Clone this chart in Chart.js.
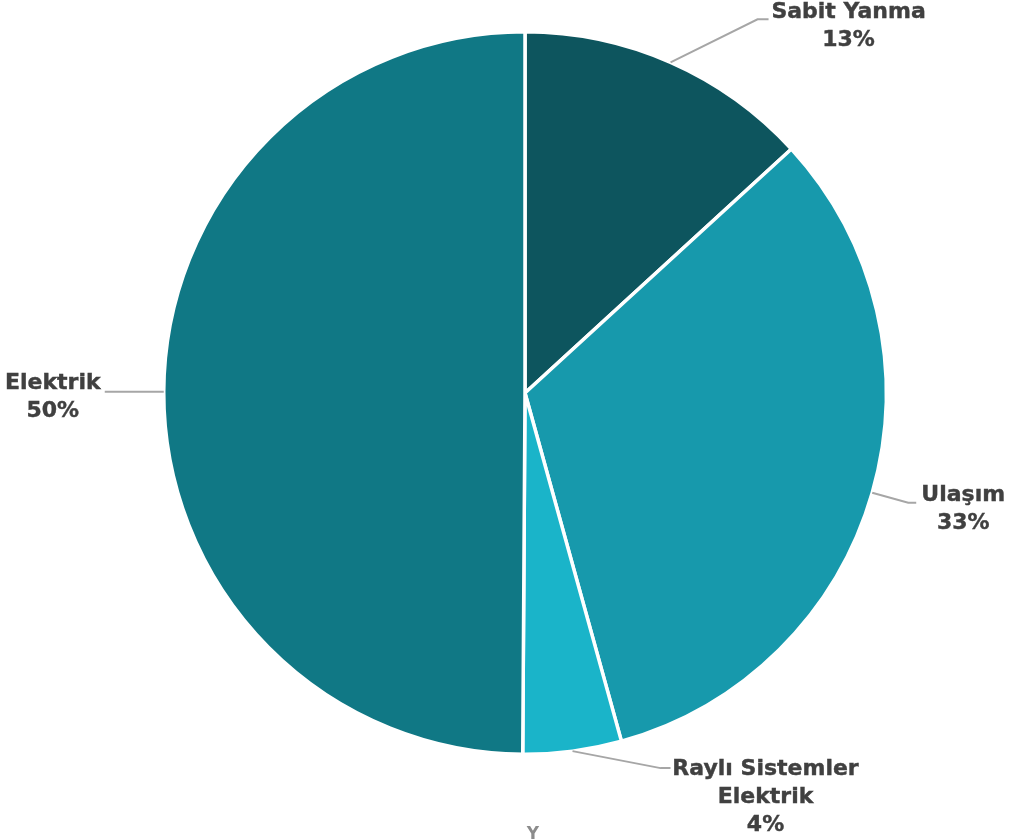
<!DOCTYPE html>
<html>
<head>
<meta charset="utf-8">
<script src="https://cdn.jsdelivr.net/npm/chart.js@4/dist/chart.umd.min.js"></script>
<style>
  html, body { margin: 0; padding: 0; background: #ffffff; }
  #wrap { width: 1011px; height: 839px; position: relative; }
</style>
</head>
<body>
<div id="wrap"><canvas id="c" width="1011" height="839"></canvas></div>
<script>
// Data
const categories = ["Sabit Yanma", "Ulaşım", "Raylı Sistemler Elektrik", "Elektrik"];
const labelLines = [["Sabit Yanma"], ["Ulaşım"], ["Raylı Sistemler", "Elektrik"], ["Elektrik"]];
const values = [13.2, 32.5, 4.4, 49.9];
const percentLabels = ["13%", "33%", "4%", "50%"];
const colors = ["#0D555E", "#1799AC", "#1AB4C9", "#107885"];

// Leader-line / label placement offsets (relative to the arc's outer midpoint)
const labelStyle = [
  { elbow: [87, -43], end: [98, -43], text: [178, -50] },
  { elbow: [36, 10], end: [44, 10], text: [91, 3] },
  { elbow: [88, 17], end: [98, 17], text: [193, 18] },
  { elbow: [-59, 0], end: [-59, 0], text: [-111, -9] }
];

const labelPlugin = {
  id: 'pieLabels',
  afterDraw(chart) {
    const ctx = chart.ctx;
    const meta = chart.getDatasetMeta(0);
    ctx.save();
    meta.data.forEach((arc, i) => {
      const p = arc.getProps(['x', 'y', 'startAngle', 'endAngle', 'outerRadius'], true);
      const mid = (p.startAngle + p.endAngle) / 2;
      const sx = p.x + Math.cos(mid) * p.outerRadius;
      const sy = p.y + Math.sin(mid) * p.outerRadius;
      const st = labelStyle[i];
      ctx.strokeStyle = '#a6a6a6';
      ctx.lineWidth = 2;
      ctx.beginPath();
      ctx.moveTo(sx, sy);
      ctx.lineTo(sx + st.elbow[0], sy + st.elbow[1]);
      ctx.lineTo(sx + st.end[0], sy + st.end[1]);
      ctx.stroke();
      const lines = labelLines[i].concat([percentLabels[i]]);
      ctx.fillStyle = '#404040';
      ctx.strokeStyle = '#404040';
      ctx.lineWidth = 0.4;
      ctx.lineJoin = 'miter';
      ctx.font = 'bold 22px "DejaVu Sans", Verdana, sans-serif';
      ctx.textAlign = 'center';
      ctx.textBaseline = 'middle';
      lines.forEach((t, k) => {
        const tx = sx + st.text[0], ty = sy + st.text[1] + k * 28;
        ctx.fillText(t, tx, ty);
        ctx.strokeText(t, tx, ty);
      });
    });
    // clipped bottom text fragment
    ctx.fillStyle = '#8c8c8c';
    ctx.font = 'bold 17px "DejaVu Sans", sans-serif';
    ctx.textAlign = 'center';
    ctx.textBaseline = 'top';
    ctx.fillText('Y', 533, 826);
    ctx.restore();
  }
};

new Chart(document.getElementById('c'), {
  type: 'pie',
  data: {
    labels: categories,
    datasets: [{
      data: values,
      backgroundColor: colors,
      borderColor: '#ffffff',
      borderWidth: 3.5
    }]
  },
  options: {
    responsive: false,
    animation: false,
    layout: { padding: { left: 162, right: 123, top: 30, bottom: 83 } },
    plugins: {
      legend: { display: false },
      tooltip: { enabled: false },
      title: { display: false }
    }
  },
  plugins: [labelPlugin]
});
</script>
</body>
</html>
